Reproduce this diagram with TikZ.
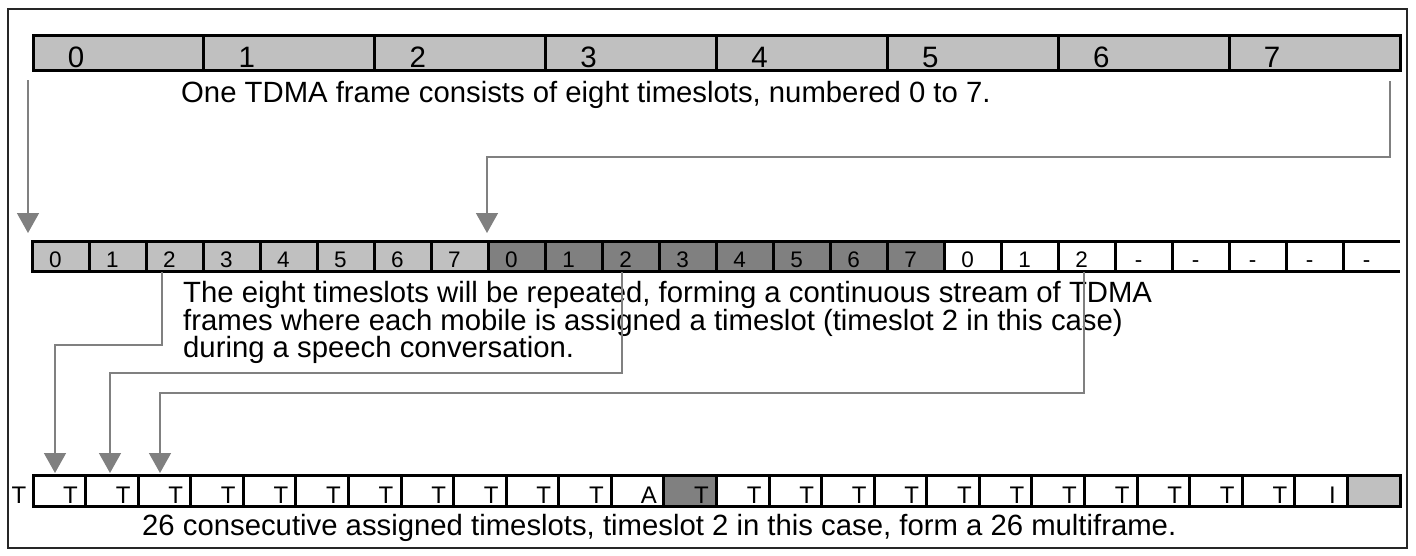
\documentclass[tikz,border=0pt]{standalone}
\usepackage{fontspec}
\setmainfont{Liberation Sans}
\usetikzlibrary{arrows.meta}
\definecolor{lgray}{HTML}{C0C0C0}
\definecolor{dgray}{HTML}{808080}
\tikzset{
  cellbox/.style={inner sep=0pt, outer sep=0pt, anchor=north west},
  barline/.style={line width=3pt, black},
  arr/.style={draw=dgray, line width=1.5pt, -{Triangle[length=20pt,width=22pt,fill=dgray]}},
  lab/.style={inner sep=0pt, anchor=base},
  bigtext/.style={inner sep=0pt, anchor=base west, font=\fontsize{29.3}{30}\selectfont},
}
\begin{document}
\begin{tikzpicture}[x=1pt,y=-1pt]
\useasboundingbox (0,0) rectangle (1416,555);
\draw[line width=1.5pt, black!85] (8,9) rectangle (1407,548);

% top bar
\foreach \i in {0,...,7}{
  \node[cellbox, fill=lgray, minimum width=170.875pt, minimum height=35pt] (t\i) at ({33+\i*170.875},35) {};
  \node[lab, font=\fontsize{29.5}{30}\selectfont] (tl\i) at ({33+\i*170.875+43},67) {\i};
}
\draw[barline] (33,35) rectangle (1400,70);
\foreach \i in {1,...,7}{\draw[barline] (t\i.north west) -- (t\i.south west);}

% middle bar
\foreach \i/\c/\l in {0/lgray/0,1/lgray/1,2/lgray/2,3/lgray/3,4/lgray/4,5/lgray/5,6/lgray/6,7/lgray/7,8/dgray/0,9/dgray/1,10/dgray/2,11/dgray/3,12/dgray/4,13/dgray/5,14/dgray/6,15/dgray/7,16/white/0,17/white/1,18/white/2,19/white/-,20/white/-,21/white/-,22/white/-,23/white/-}{
  \node[cellbox, fill=\c, minimum width=57pt, minimum height=30pt] (m\i) at ({32+\i*57},241) {};
  \node[lab, font=\fontsize{22.5}{24}\selectfont] (ml\i) at ({32+\i*57+23.5},267.5) {\l};
}
\draw[barline] (1400,241) -- (32,241) -- (32,271) -- (1400,271);
\foreach \i in {1,...,23}{\draw[barline] (m\i.north west) -- (m\i.south west);}

% bottom bar
\foreach \i/\c/\l in {1/white/T,2/white/T,3/white/T,4/white/T,5/white/T,6/white/T,7/white/T,8/white/T,9/white/T,10/white/T,11/white/T,12/white/A,13/dgray/T,14/white/T,15/white/T,16/white/T,17/white/T,18/white/T,19/white/T,20/white/T,21/white/T,22/white/T,23/white/T,24/white/T,25/white/I,26/lgray/{}}{
  \node[cellbox, fill=\c, minimum width=52.577pt, minimum height=31pt] (b\i) at ({33+(\i-1)*52.577},475) {};
  \node[lab, font=\fontsize{24}{25}\selectfont] (bl\i) at ({33+\i*52.577-15},503.5) {\l};
}
\node[lab, font=\fontsize{24}{25}\selectfont] (bl0) at (19,503.5) {T};
\draw[barline] (33,475) rectangle (1400,506);
\foreach \i in {2,...,26}{\draw[barline] (b\i.north west) -- (b\i.south west);}

% texts
\node[bigtext] (toptxt) at (181,102) {One TDMA frame consists of eight timeslots, numbered 0 to 7.};
\node[bigtext] (mt1) at (183,302) {The eight timeslots will be repeated, forming a continuous stream of TDMA};
\node[bigtext] (mt2) at (183,330) {frames where each mobile is assigned a timeslot (timeslot 2 in this case)};
\node[bigtext] (mt3) at (183,357) {during a speech conversation.};
\node[bigtext] (bt) at (142,535) {26 consecutive assigned timeslots, timeslot 2 in this case, form a 26 multiframe.};

% connectors
\coordinate (a1s) at (28,80);   \coordinate (a1e) at (28,233);
\coordinate (a2s) at (1390,81); \coordinate (a2e) at (487,233);
\coordinate (c1s) at (162,272); \coordinate (c1e) at (55,473);
\coordinate (c2s) at (622,272); \coordinate (c2e) at (110,473);
\coordinate (c3s) at (1084,272);\coordinate (c3e) at (160,473);
\draw[arr] (a1s) -- (a1e);
\draw[arr] (a2s) -- ++(0,76) -| (a2e);
\draw[arr] (c1s) -- ++(0,73) -| (c1e);
\draw[arr] (c2s) -- ++(0,101) -| (c2e);
\draw[arr] (c3s) -- ++(0,121) -| (c3e);
\end{tikzpicture}
\end{document}
